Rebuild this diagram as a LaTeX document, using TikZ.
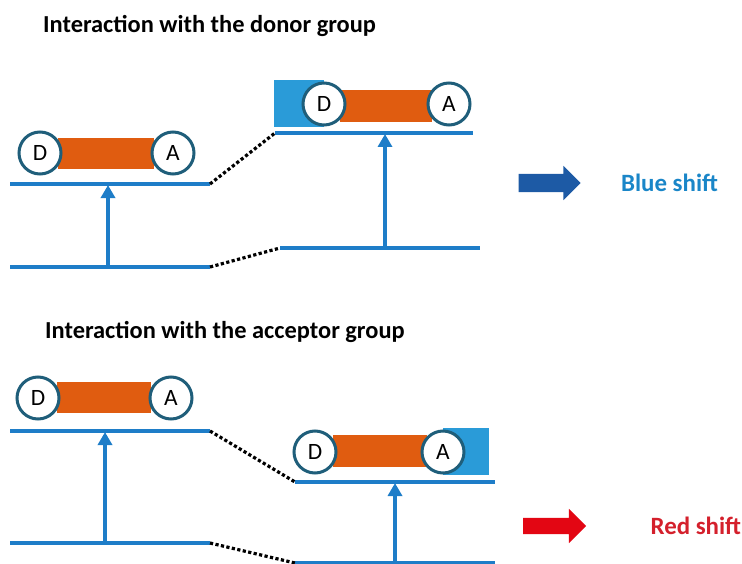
\documentclass[tikz,border=0pt]{standalone}
\usepackage{fontspec}
\setmainfont{Carlito}
\usepackage{xcolor}
\usepackage{tikz}
\usetikzlibrary{arrows.meta, shapes.arrows, positioning, calc}
\definecolor{levelblue}{HTML}{1E7DC8}
\definecolor{ringteal}{HTML}{1F5E7A}
\definecolor{bridgeorange}{HTML}{E05C10}
\definecolor{patchblue}{HTML}{2A9BD8}
\definecolor{shiftblue}{HTML}{1D5AA5}
\definecolor{shiftred}{HTML}{E30613}
\definecolor{bluetext}{HTML}{1A86C8}
\definecolor{redtext}{HTML}{D4202C}
\tikzstyle{grp} = [circle, draw=ringteal, line width=3bp, fill=white, minimum size=42bp, inner sep=0pt, font=\fontsize{23.5}{26}\selectfont]
\tikzstyle{bridge} = [rectangle, fill=bridgeorange, inner sep=0pt]
\tikzstyle{patch} = [rectangle, fill=patchblue, inner sep=0pt]
\tikzstyle{level} = [draw=levelblue, line width=3.8bp]
\tikzstyle{link} = [draw=black, line width=3.2bp, dash pattern=on 3.2bp off 2.4bp]
\tikzstyle{excite} = [draw=levelblue, line width=3.4bp, -{Triangle[length=13bp,width=14bp]}]
\tikzstyle{title} = [anchor=base west, inner sep=0pt, font=\bfseries\fontsize{24.5}{28}\selectfont]
\tikzstyle{shiftarrow} = [single arrow, inner sep=9bp, single arrow head extend=8bp, minimum height=62bp, draw=none]
\tikzstyle{shiftlabel} = [inner sep=0pt, font=\bfseries\fontsize{25}{28}\selectfont]

\begin{document}
\begin{tikzpicture}[x=1bp, y=-1bp]
    \useasboundingbox (0,0) rectangle (742,564);

    % Donor group panel
    \node (title1) [title] at (43,33) {Interaction with the donor group};

    % Left molecule
    \node (bridge1) [bridge, minimum width=96bp, minimum height=31bp] at (106,153.5) {};
    \node (d1) [grp] at (40,153) {D};
    \node (a1) [grp] at (173,153) {A};

    % Right molecule
    \node (patch1) [patch, minimum width=50bp, minimum height=47bp] at (299,103.5) {};
    \node (bridge2) [bridge, minimum width=92bp, minimum height=32bp] at (386,106) {};
    \node (d2) [grp] at (324,104) {D};
    \node (a2) [grp] at (449,104) {A};

    % Levels
    \coordinate (up1w) at (10,184);
    \coordinate (up1e) at (210,184);
    \coordinate (lo1w) at (10,267);
    \coordinate (lo1e) at (210,267);
    \coordinate (up2w) at (275,133);
    \coordinate (up2e) at (473,133);
    \coordinate (lo2w) at (280,248);
    \coordinate (lo2e) at (480,248);
    \draw [level] (up1w) -- (up1e);
    \draw [level] (lo1w) -- (lo1e);
    \draw [level] (up2w) -- (up2e);
    \draw [level] (lo2w) -- (lo2e);
    \draw [link] (up1e) -- (up2w);
    \draw [link] (lo1e) -- (lo2w);

    % Transitions
    \coordinate (ex1a) at (108,267);
    \coordinate (ex1b) at (108,185);
    \coordinate (ex2a) at (385,248);
    \coordinate (ex2b) at (385,134);
    \draw [excite] (ex1a) -- (ex1b);
    \draw [excite] (ex2a) -- (ex2b);

    % Blue shift
    \node (arrow1) [shiftarrow, fill=shiftblue] at (545,183) {};
    \node (label1) [shiftlabel, text=bluetext, right=40bp of arrow1] {Blue shift};

    % Acceptor group panel
    \node (title2) [title] at (45,338) {Interaction with the acceptor group};

    % Left molecule
    \node (bridge3) [bridge, minimum width=94bp, minimum height=31bp] at (104,397.5) {};
    \node (d3) [grp] at (38,398) {D};
    \node (a3) [grp] at (171,398) {A};

    % Right molecule
    \node (patch2) [patch, minimum width=46bp, minimum height=47bp] at (466,451.5) {};
    \node (bridge4) [bridge, minimum width=94bp, minimum height=32bp] at (380,451) {};
    \node (d4) [grp] at (315,452) {D};
    \node (a4) [grp] at (443,452) {A};

    % Levels
    \coordinate (up3w) at (10,431);
    \coordinate (up3e) at (210,431);
    \coordinate (lo3w) at (10,543);
    \coordinate (lo3e) at (210,543);
    \coordinate (up4w) at (295,482);
    \coordinate (up4e) at (495,482);
    \coordinate (lo4w) at (295,563);
    \coordinate (lo4e) at (495,563);
    \draw [level] (up3w) -- (up3e);
    \draw [level] (lo3w) -- (lo3e);
    \draw [level] (up4w) -- (up4e);
    \draw [level] (lo4w) -- (lo4e);
    \draw [link] (up3e) -- (up4w);
    \draw [link] (lo3e) -- (lo4w);

    % Transitions
    \coordinate (ex3a) at (105,543);
    \coordinate (ex3b) at (105,432);
    \coordinate (ex4a) at (395,563);
    \coordinate (ex4b) at (395,483);
    \draw [excite] (ex3a) -- (ex3b);
    \draw [excite] (ex4a) -- (ex4b);

    % Red shift
    \node (arrow2) [shiftarrow, fill=shiftred, inner sep=8bp, minimum height=63bp, single arrow head extend=9bp] at (550.5,526) {};
    \node (label2) [shiftlabel, text=redtext, right=64bp of arrow2] {Red shift};
\end{tikzpicture}
\end{document}
